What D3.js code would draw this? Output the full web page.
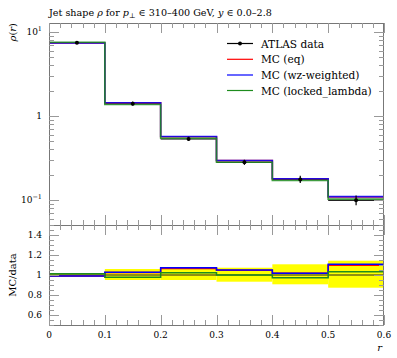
<!DOCTYPE html>
<html><head><meta charset="utf-8">
<script src="https://cdn.jsdelivr.net/npm/d3@7"></script>
<style>
body{margin:0;background:#fff;}
</style></head>
<body><svg id="c" width="397" height="358" font-family="'DejaVu Serif', 'Liberation Serif', serif"></svg>
<script>
// ---- data ----
const binEdges = [0.0, 0.1, 0.2, 0.3, 0.4, 0.5, 0.6];
const dataVals = [7.46, 1.40, 0.532, 0.281, 0.176, 0.099];
const dataRelLo = [0.02, 0.05, 0.05, 0.067, 0.093, 0.127];
const dataRelHi = [0.02, 0.06, 0.063, 0.073, 0.107, 0.143];
const mcEq = [7.39, 1.435, 0.567, 0.294, 0.179, 0.1086];
const mcWz = [7.39, 1.438, 0.571, 0.295, 0.179, 0.1096];
const mcLocked = [7.56, 1.368, 0.544, 0.281, 0.171, 0.1023];
const seriesNames = ["ATLAS data", "MC (eq)", "MC (wz-weighted)", "MC (locked_lambda)"];
const seriesColors = ["#000000", "#ff0000", "#0000ff", "#1e8c1e"];
const xTickLabels = ["0", "0.1", "0.2", "0.3", "0.4", "0.5", "0.6"];
const ratioTickLabels = ["0.6", "0.8", "1", "1.2", "1.4"];

const svg = d3.select("#c");
const L = 49, R = 384, T = 23, MB = 225, RB = 325;
const x = d3.scaleLinear().domain([0, 0.6]).range([L, R]);
const y = d3.scaleLog().domain([0.0504, 12.8]).range([MB, T]);
const yr = d3.scaleLinear().domain([0.5, 1.5]).range([RB, MB]);

const bins = dataVals.map((v, i) => ({x0: binEdges[i], x1: binEdges[i+1], v}));

// ---- ratio band ----
const gR = svg.append("g");
gR.selectAll("rect.band").data(bins).join("rect")
  .attr("x", d => x(d.x0)).attr("width", d => x(d.x1) - x(d.x0))
  .attr("y", (d, i) => yr(1 + dataRelHi[i]))
  .attr("height", (d, i) => yr(1 - dataRelLo[i]) - yr(1 + dataRelHi[i]))
  .attr("fill", "#ffff00");

function stepPath(vals, sc) {
  let p = "";
  vals.forEach((v, i) => {
    const xa = x(binEdges[i]), xb = x(binEdges[i+1]), yy = sc(v);
    p += (i === 0 ? "M" : "L") + xa + "," + yy + "L" + xb + "," + yy;
  });
  return p;
}

gR.append("path").attr("d", stepPath(dataVals.map(() => 1), yr))
  .attr("fill", "none").attr("stroke", "#222").attr("stroke-width", 1);
[mcEq, mcWz, mcLocked].forEach((s, k) => {
  gR.append("path").attr("d", stepPath(s.map((v, i) => v / dataVals[i]), yr))
    .attr("fill", "none").attr("stroke", seriesColors[k+1]).attr("stroke-width", 1.5);
});

// ---- main panel ----
const gM = svg.append("g");
gM.selectAll("line.dh").data(bins).join("line")
  .attr("x1", d => x(d.x0)).attr("x2", d => x(d.x1))
  .attr("y1", d => y(d.v)).attr("y2", d => y(d.v))
  .attr("stroke", "#000").attr("stroke-width", 1);
[mcEq, mcWz, mcLocked].forEach((s, k) => {
  gM.append("path").attr("d", stepPath(s, y))
    .attr("fill", "none").attr("stroke", seriesColors[k+1]).attr("stroke-width", 1.6)
    .attr("stroke-opacity", 0.85);
});
gM.selectAll("line.dv").data(bins).join("line")
  .attr("x1", d => x((d.x0 + d.x1) / 2)).attr("x2", d => x((d.x0 + d.x1) / 2))
  .attr("y1", (d, i) => y(d.v * (1 + dataRelHi[i]))).attr("y2", (d, i) => y(d.v * (1 - dataRelLo[i])))
  .attr("stroke", "#000").attr("stroke-width", 1.2);
gM.selectAll("circle").data(bins).join("circle")
  .attr("cx", d => x((d.x0 + d.x1) / 2)).attr("cy", d => y(d.v)).attr("r", 2)
  .attr("fill", "#000");

// ---- frames & ticks ----
const frameCol = "#777", tickCol = "#999";
function frame(top, bot) {
  svg.append("rect").attr("x", L + 0.5).attr("y", top + 0.5)
    .attr("width", R - L - 1).attr("height", bot - top)
    .attr("fill", "none").attr("stroke", frameCol).attr("stroke-width", 1);
}
frame(T, MB); frame(MB, RB);

function xTicks(top, bot) {
  const majors = d3.range(0, 0.6001, 0.1);
  const minors = d3.range(0, 0.6001, 0.02);
  minors.forEach(t => {
    const isMaj = majors.some(m => Math.abs(m - t) < 1e-6);
    const len = isMaj ? 10 : 5;
    const xx = Math.round(x(t)) + 0.5;
    svg.append("line").attr("x1", xx).attr("x2", xx).attr("y1", bot).attr("y2", bot - len)
      .attr("stroke", tickCol);
    svg.append("line").attr("x1", xx).attr("x2", xx).attr("y1", top).attr("y2", top + len)
      .attr("stroke", tickCol);
  });
}
xTicks(T, MB); xTicks(MB, RB);

function yTick(yy, len) {
  yy = Math.round(yy) + 0.5;
  svg.append("line").attr("x1", L).attr("x2", L + len).attr("y1", yy).attr("y2", yy).attr("stroke", tickCol);
  svg.append("line").attr("x1", R).attr("x2", R - len).attr("y1", yy).attr("y2", yy).attr("stroke", tickCol);
}
[0.01, 0.1, 1, 10].forEach(dec => {
  for (let m = 1; m <= 9; m++) {
    const v = dec * m;
    if (v < y.domain()[0] || v > y.domain()[1]) continue;
    yTick(y(v), m === 1 ? 10 : 5);
  }
});
d3.range(0.5, 1.5001, 0.05).forEach(v => {
  const isMaj = Math.abs(Math.round(v * 5) - v * 5) < 1e-6;
  yTick(yr(v), isMaj ? 10 : 5);
});

// ---- labels ----
const tl = svg.append("g").attr("font-size", 9);
const lab10 = tl.append("text").attr("x", 42).attr("y", y(10) + 3).attr("text-anchor", "end");
lab10.append("tspan").text("10");
lab10.append("tspan").attr("dy", -4).attr("font-size", 6.5).text("1");
tl.append("text").attr("x", 42).attr("y", y(1) + 3).attr("text-anchor", "end").text("1");
const labm1 = tl.append("text").attr("x", 42).attr("y", y(0.1) + 3).attr("text-anchor", "end");
labm1.append("tspan").text("10");
labm1.append("tspan").attr("dy", -4).attr("font-size", 6.5).text("\u22121");
[0.6, 0.8, 1, 1.2, 1.4].forEach((v, i) => {
  tl.append("text").attr("x", 42).attr("y", yr(v) + 3).attr("text-anchor", "end").text(ratioTickLabels[i]);
});
binEdges.forEach((v, i) => {
  tl.append("text").attr("x", x(v)).attr("y", 338).attr("text-anchor", "middle").text(xTickLabels[i]);
});
svg.append("text").attr("x", 382).attr("y", 351).attr("text-anchor", "end")
  .attr("font-size", 10).attr("font-style", "italic").text("r");
svg.append("text").attr("transform", "translate(16,23) rotate(-90)").attr("text-anchor", "end")
  .attr("font-size", 10).html('<tspan font-style="italic">ρ</tspan>(<tspan font-style="italic">r</tspan>)');
svg.append("text").attr("transform", "translate(16,275) rotate(-90)").attr("text-anchor", "middle")
  .attr("font-size", 10).text("MC/data");
svg.append("text").attr("x", 49).attr("y", 16).attr("font-size", 9.6)
  .html('Jet shape <tspan font-style="italic">ρ</tspan> for <tspan font-style="italic">p</tspan><tspan font-size="7" dy="2">⊥</tspan><tspan dy="-2"> ∈ 310–400 GeV, </tspan><tspan font-style="italic">y</tspan> ∈ 0.0–2.8');

// ---- legend ----
const legY = [43.5, 59.3, 75, 90.5];
const lg = svg.append("g");
seriesNames.forEach((n, i) => {
  lg.append("line").attr("x1", 227).attr("x2", 253).attr("y1", legY[i]).attr("y2", legY[i])
    .attr("stroke", seriesColors[i]).attr("stroke-width", 1.2);
  if (i === 0) lg.append("circle").attr("cx", 240).attr("cy", legY[i]).attr("r", 2).attr("fill", "#000");
  lg.append("text").attr("x", 261).attr("y", legY[i] + 4).attr("font-size", 10.6).text(n);
});
</script></body></html>
